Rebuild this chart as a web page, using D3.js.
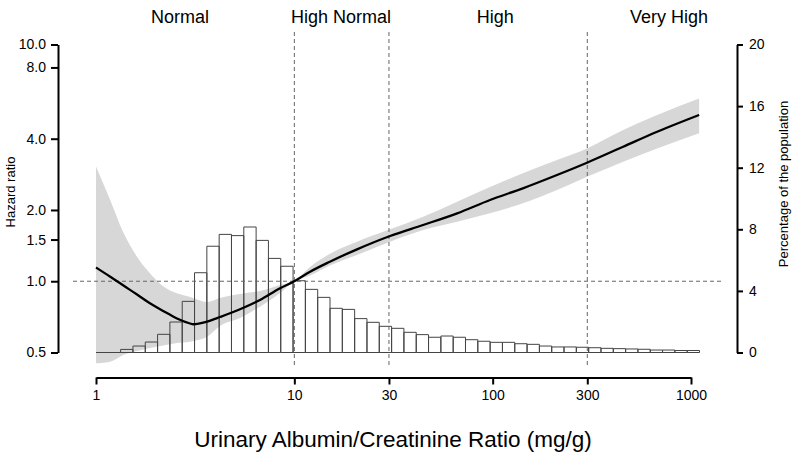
<!DOCTYPE html>
<html>
<head>
<meta charset="utf-8">
<script src="https://cdn.jsdelivr.net/npm/d3@7"></script>
<style>
  body { margin: 0; background: #fff; }
  svg { font-family: "Liberation Sans", Arial, sans-serif; }
</style>
</head>
<body>
<div id="chart"></div>
<script>
// ACR (mg/g) knots of the spline and hazard ratio with 95% CI
const acr = [1, 1.18, 1.37, 1.61, 1.87, 2.18, 2.56, 2.98, 3.09, 3.63, 4.22, 5.32, 6.71, 8.47,
             10, 12, 15.1, 20.7, 30.4, 44.6, 66.2, 97, 142, 211, 299, 455, 675, 1099];
const hr = [1.143, 1.045, 0.961, 0.879, 0.807, 0.749, 0.696, 0.663, 0.658, 0.675, 0.706, 0.761, 0.833, 0.934,
            1.0, 1.097, 1.209, 1.364, 1.553, 1.728, 1.936, 2.204, 2.469, 2.81, 3.167, 3.70, 4.28, 5.04];
const hrUpper = [3.05, 2.20, 1.614, 1.269, 1.080, 0.952, 0.889, 0.858, 0.850, 0.817, 0.850, 0.883, 0.909, 0.964,
                 1.0, 1.148, 1.307, 1.469, 1.657, 1.873, 2.167, 2.50, 2.857, 3.25, 3.64, 4.35, 5.04, 5.92];
const hrLower = [0.450, 0.457, 0.488, 0.507, 0.522, 0.535, 0.548, 0.555, 0.559, 0.583, 0.647, 0.699, 0.781, 0.892,
                 1.0, 1.057, 1.165, 1.291, 1.469, 1.646, 1.785, 1.936, 2.134, 2.43, 2.764, 3.20, 3.64, 4.22];

// histogram: bins of equal width on log10 scale, starting at ACR = 1
const binLogWidth = 0.0621;
const histPct = [0, 0, 0.2, 0.42, 0.68, 1.18, 1.98, 3.32, 5.18, 6.9, 7.67, 7.59, 8.15, 7.28, 6.11, 5.6,
                 4.66, 4.1, 3.58, 2.87, 2.8, 2.2, 1.96, 1.7, 1.57, 1.31, 1.16, 0.99, 1.07, 0.99, 0.83, 0.73,
                 0.66, 0.66, 0.57, 0.53, 0.42, 0.36, 0.36, 0.34, 0.31, 0.27, 0.25, 0.23, 0.21, 0.16, 0.16,
                 0.13, 0.13];

const xTicks = [1, 10, 30, 100, 300, 1000];
const yTicks = [0.5, 1.0, 1.5, 2.0, 4.0, 8.0, 10.0];
const pctTicks = [0, 4, 8, 12, 16, 20];

const zoneCuts = [10, 30, 300];
const zoneLabels = ["Normal", "High Normal", "High", "Very High"];
const zoneLabelPos = [2.65, 17.2, 103, 775];

const width = 800, height = 456;
const plotBox = { left: 73, right: 723, top: 32, bottom: 366 }; // plotting region (for reference lines)

const svg = d3.select("#chart").append("svg")
    .attr("width", width)
    .attr("height", height);

const x = d3.scaleLog().domain([1, 1000]).range([96, 691]);
const y = d3.scaleLog().domain([0.5, 10]).range([352.5, 44.5]);
const yPct = d3.scaleLinear().domain([0, 20]).range([352.5, 44.5]);

// confidence band
const band = d3.area()
    .x((d, i) => x(acr[i]))
    .y0((d, i) => y(hrLower[i]))
    .y1((d, i) => y(hrUpper[i]))
    .curve(d3.curveMonotoneX);

svg.append("path")
    .attr("d", band(acr))
    .style("fill", "#d7d7d7")
    .style("stroke", "none");

// histogram bars (drawn as paths so empty bins still show as a line)
svg.append("g").selectAll("path")
    .data(histPct)
    .enter().append("path")
    .attr("d", (d, i) => {
        const x0 = x(Math.pow(10, i * binLogWidth));
        const x1 = x(Math.pow(10, (i + 1) * binLogWidth));
        return `M${x0},${yPct(0)}V${yPct(d)}H${x1}V${yPct(0)}Z`;
    })
    .style("fill", "none")
    .style("stroke", "#444")
    .style("stroke-width", 1);

// reference lines
svg.append("line")
    .attr("x1", plotBox.left).attr("x2", plotBox.right)
    .attr("y1", y(1)).attr("y2", y(1))
    .style("stroke", "#666")
    .style("stroke-dasharray", "4,3");

svg.append("g").selectAll("line")
    .data(zoneCuts)
    .enter().append("line")
    .attr("x1", d => x(d)).attr("x2", d => x(d))
    .attr("y1", plotBox.top).attr("y2", plotBox.bottom)
    .style("stroke", "#666")
    .style("stroke-dasharray", "4,3");

// hazard ratio curve
const line = d3.line()
    .x((d, i) => x(acr[i]))
    .y((d, i) => y(hr[i]))
    .curve(d3.curveMonotoneX);

svg.append("path")
    .attr("d", line(acr))
    .style("fill", "none")
    .style("stroke", "#000")
    .style("stroke-width", 2.3);

// zone labels
svg.append("g").selectAll("text")
    .data(zoneLabels)
    .enter().append("text")
    .attr("x", (d, i) => x(zoneLabelPos[i]))
    .attr("y", 23)
    .attr("text-anchor", "middle")
    .style("font-size", "18px")
    .text(d => d);

// axes
function styleAxis(g) {
    g.select(".domain").style("stroke-width", 2);
    g.selectAll(".tick line").style("stroke-width", 2);
    g.selectAll(".tick text").style("font-size", "14px").style("font-family", "Liberation Sans, Arial, sans-serif");
}

svg.append("g")
    .attr("transform", "translate(0,377.5)")
    .call(d3.axisBottom(x).tickValues(xTicks).tickFormat(d3.format("d")).tickSize(7).tickSizeOuter(0).tickPadding(6))
    .call(styleAxis);

svg.append("g")
    .attr("transform", "translate(58,0)")
    .call(d3.axisLeft(y).tickValues(yTicks).tickFormat(d3.format(".1f")).tickSize(7).tickSizeOuter(0).tickPadding(5))
    .call(styleAxis);

svg.append("g")
    .attr("transform", "translate(737,0)")
    .call(d3.axisRight(yPct).tickValues(pctTicks).tickSize(6).tickSizeOuter(0).tickPadding(6))
    .call(styleAxis);

// axis titles
svg.append("text")
    .attr("transform", "translate(15,192) rotate(-90)")
    .attr("text-anchor", "middle")
    .style("font-size", "13px")
    .text("Hazard ratio");

svg.append("text")
    .attr("transform", "translate(788,184) rotate(-90)")
    .attr("text-anchor", "middle")
    .style("font-size", "13px")
    .text("Percentage of the population");

svg.append("text")
    .attr("x", 393)
    .attr("y", 447)
    .attr("text-anchor", "middle")
    .style("font-size", "22.5px")
    .text("Urinary Albumin/Creatinine Ratio (mg/g)");
</script>
</body>
</html>
